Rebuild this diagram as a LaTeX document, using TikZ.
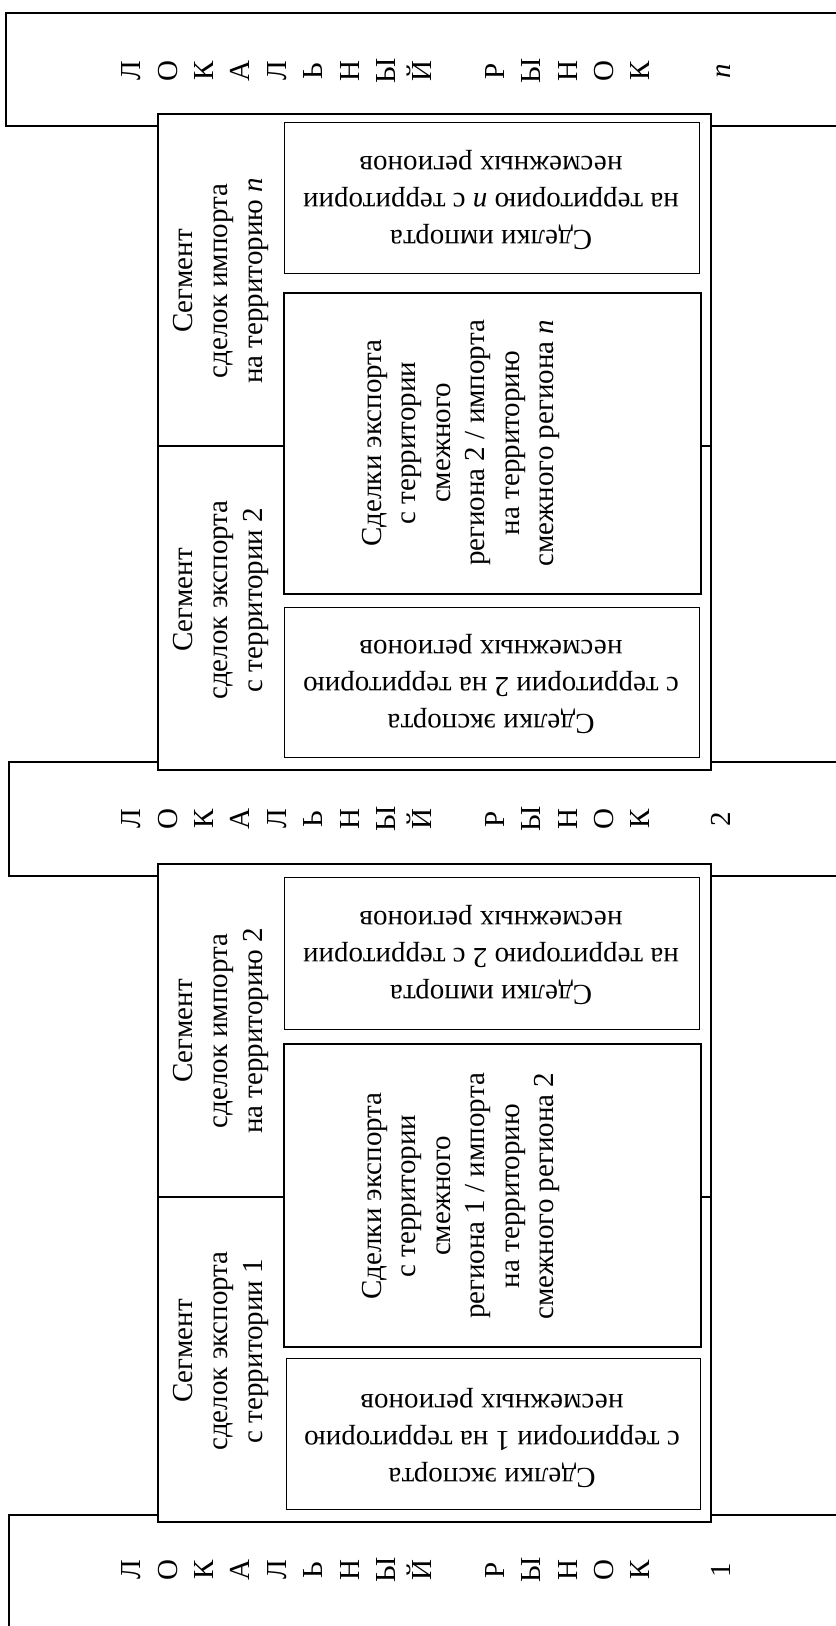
\documentclass[tikz,border=0pt]{standalone}
\usepackage{fontspec}
\setmainfont{Liberation Serif}
\usetikzlibrary{positioning}

\tikzset{
  marketbox/.style={draw,line width=0.9pt},
  segbox/.style={draw,fill=white,line width=1pt},
  dealbox/.style={draw,fill=white,line width=0.5pt},
  crossbox/.style={draw,fill=white,line width=1.3pt},
  letters/.style={align=center,rotate=90,font=\fontsize{14.5}{18.2}\selectfont},
  seglbl/.style={align=center,rotate=90,font=\fontsize{14.5}{17.5}\selectfont},
  crosslbl/.style={align=center,rotate=90,font=\fontsize{14.5}{17.2}\selectfont},
  deallbl/.style={align=center,rotate=180,font=\fontsize{14.5}{18.5}\selectfont}
}

\begin{document}
\begin{tikzpicture}[x=0.5pt,y=-0.5pt]
\useasboundingbox (0,0) rectangle (835,1626);

\draw[marketbox] (6,13) rectangle (860,126);
\node[letters] (rynok-n) at (426,71)
  {Л\\О\\К\\А\\Л\\Ь\\Н\\Ы\\Й\\[18pt]Р\\Ы\\Н\\О\\К\\[22pt]\textit{n}};
\draw[marketbox] (9,762) rectangle (860,876);
\node[letters] (rynok-2) at (426,819)
  {Л\\О\\К\\А\\Л\\Ь\\Н\\Ы\\Й\\[18pt]Р\\Ы\\Н\\О\\К\\[22pt]2};
\draw[marketbox] (9,1515) rectangle (860,1640);
\node[letters] (rynok-1) at (426,1570)
  {Л\\О\\К\\А\\Л\\Ь\\Н\\Ы\\Й\\[18pt]Р\\Ы\\Н\\О\\К\\[22pt]1};

\draw[segbox] (158,114) rectangle (711,770);
\draw[segbox] (158,446) -- (711,446);
\draw[dealbox] (284,123) rectangle (699,274);
\draw[crossbox] (284,293) rectangle (701,594);
\draw[dealbox] (284,607) rectangle (699,757);
\node[seglbl] (imp-n) at (221,281) {Сегмент\\сделок импорта\\на территорию \textit{n}};
\node[seglbl] (exp-2) at (221,600) {Сегмент\\сделок экспорта\\с территории 2};
\node[deallbl] (imp-n-far) at (491,200)
  {Сделки импорта\\на территорию \textit{n} с территории\\несмежных регионов};
\node[crosslbl] (cross-2n) at (461,443)
  {Сделки экспорта\\с территории\\смежного\\региона 2 / импорта\\на территорию\\смежного региона \textit{n}};
\node[deallbl] (exp-2-far) at (491,684)
  {Сделки экспорта\\с территории 2 на территорию\\несмежных регионов};

\begin{scope}[yshift=-375pt]
\draw[segbox] (158,114) rectangle (711,772);
\draw[segbox] (158,447) -- (711,447);
\draw[dealbox] (284,127) rectangle (699,279);
\draw[crossbox] (284,294) rectangle (701,597);
\draw[dealbox] (286,608) rectangle (700,759);
\node[seglbl] (imp-2) at (221,281) {Сегмент\\сделок импорта\\на территорию 2};
\node[seglbl] (exp-1) at (221,601) {Сегмент\\сделок экспорта\\с территории 1};
\node[deallbl] (imp-2-far) at (491,205)
  {Сделки импорта\\на территорию 2 с территории\\несмежных регионов};
\node[crosslbl] (cross-12) at (461,446)
  {Сделки экспорта\\с территории\\смежного\\региона 1 / импорта\\на территорию\\смежного региона 2};
\node[deallbl] (exp-1-far) at (492,688)
  {Сделки экспорта\\с территории 1 на территорию\\несмежных регионов};
\end{scope}
\end{tikzpicture}
\end{document}
